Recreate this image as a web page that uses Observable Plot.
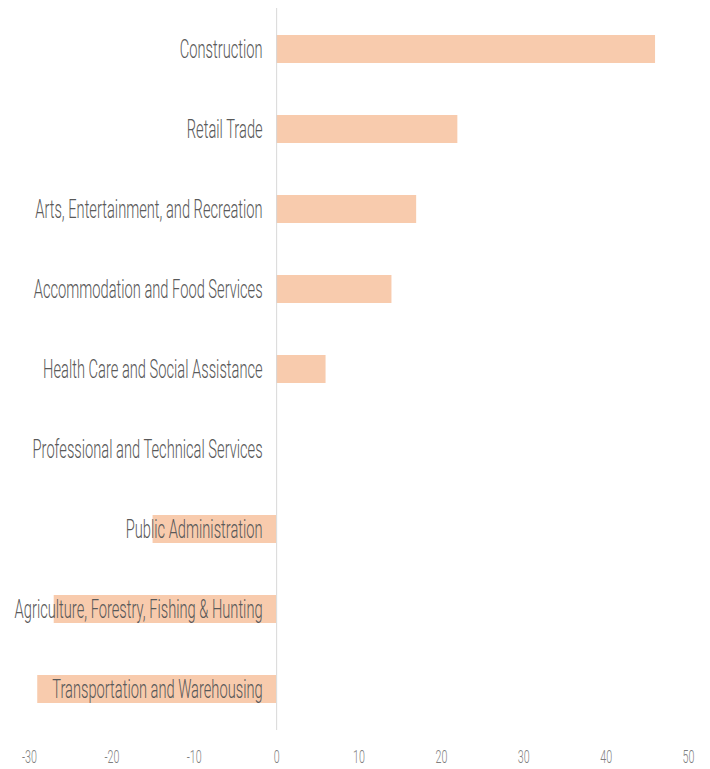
<!DOCTYPE html>
<html>
<head>
<meta charset="utf-8">
<script src="https://cdn.jsdelivr.net/npm/d3@7"></script>
<script src="https://cdn.jsdelivr.net/npm/@observablehq/plot@0.6"></script>
<style>
  html, body { margin: 0; padding: 0; background: #fff; }
  #chart svg { display: block; }
</style>
</head>
<body>
<div id="chart"></div>
<script>
const categories = [
  "Construction",
  "Retail Trade",
  "Arts, Entertainment, and Recreation",
  "Accommodation and Food Services",
  "Health Care and Social Assistance",
  "Professional and Technical Services",
  "Public Administration",
  "Agriculture, Forestry, Fishing & Hunting",
  "Transportation and Warehousing"
];
const values = [46, 22, 17, 14, 6, 0, -15, -27, -29];
const xTicks = [-30, -20, -10, 0, 10, 20, 30, 40, 50];

const data = categories.map((c, i) => ({category: c, value: values[i]}));

const FONT = "Roboto, 'Liberation Sans Narrow', 'DejaVu Sans Condensed', sans-serif";

const chart = Plot.plot({
  width: 710,
  height: 769,
  marginTop: 8,
  marginBottom: 39,
  marginLeft: 29,
  marginRight: 22,
  style: {fontFamily: FONT, background: "#fff"},
  x: {domain: [-30, 50], label: null},
  y: {domain: categories, paddingInner: 0.65, paddingOuter: 0.325, axis: null},
  marks: [
    Plot.barX(data, {x: "value", y: "category", fill: "#F8CBAD"}),
    Plot.ruleX([0], {stroke: "#d9d9d9", strokeWidth: 1}),
    Plot.text(data, {
      x: () => 0, y: "category", text: "category",
      textAnchor: "end", dx: -14, fontSize: 26, fontWeight: 300,
      fill: "#595959"
    }),
    Plot.axisX({
      ticks: xTicks, tickSize: 0, tickPadding: 19, fontSize: 19,
      fontWeight: 300, fill: "#7f7f7f", tickFormat: d => String(d),
      label: null
    })
  ]
});

document.getElementById("chart").appendChild(chart);

// Condense the text horizontally to mimic the narrow typeface of the original
const labels = Array.from(chart.querySelectorAll("text")).filter(t => t.textContent.length > 0);
const ref = labels.find(t => t.textContent === "Agriculture, Forestry, Fishing & Hunting");
const k = ref ? 248 / ref.getComputedTextLength() : 0.6;
labels.forEach(t => {
  const len = t.getComputedTextLength();
  t.setAttribute("textLength", (len * k).toFixed(2));
  t.setAttribute("lengthAdjust", "spacingAndGlyphs");
});
</script>
</body>
</html>
